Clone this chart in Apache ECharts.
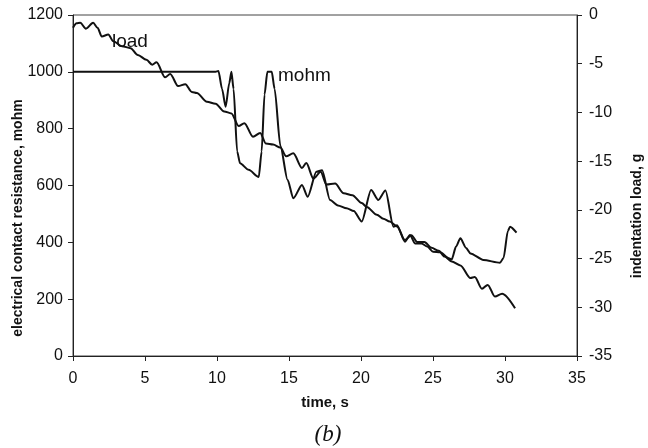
<!DOCTYPE html>
<html>
<head>
<meta charset="utf-8">
<script src="https://cdn.jsdelivr.net/npm/echarts@6/dist/echarts.min.js"></script>
<style>
html,body{margin:0;padding:0;background:#fff;}
#chart{width:648px;height:448px;}
</style>
</head>
<body>
<div id="chart"></div>
<script>
// time (s) and electrical contact resistance (mohm), left axis
var mohmTime = [0, 9.9, 10.1, 10.35, 10.6, 10.85, 11.0, 11.15, 11.4, 11.6, 12.2, 12.9, 13.1, 13.3, 13.5, 13.8, 14.0, 14.4, 14.9, 15.3, 15.9, 16.3, 16.9, 17.3, 17.85, 18.4, 19.0, 19.5, 20.05, 20.7, 21.2, 21.7, 22.25, 22.5, 23.05, 23.4, 23.75, 24.2, 24.6, 25.0, 25.5, 26.1, 26.3, 26.6, 26.9, 27.3, 27.6, 28.5, 29.65, 29.9, 30.2, 30.35, 30.8];
var mohmValues = [1000, 1000, 1003, 940, 877, 960, 1000, 940, 720, 678, 655, 630, 720, 920, 1000, 1000, 940, 740, 620, 555, 602, 560, 648, 654, 549, 530, 520, 510, 473, 584, 549, 582, 455, 460, 402, 426, 396, 396, 385, 367, 365, 344, 340, 385, 414, 380, 361, 338, 328, 345, 440, 455, 434];
// time (s) and indentation load (g), right axis
var loadTime = [0.0, 0.25, 0.5, 0.9, 1.4, 1.7, 2.0, 2.45, 2.8, 3.4, 4.0, 4.5, 5.1, 5.5, 5.8, 6.4, 6.75, 7.3, 7.8, 8.25, 8.6, 9.3, 9.9, 10.5, 11.0, 11.5, 11.9, 12.5, 13.0, 13.4, 13.9, 14.4, 14.8, 15.3, 15.9, 16.2, 16.7, 17.2, 17.6, 18.2, 18.8, 19.4, 20.05, 20.4, 21.1, 21.55, 22.0, 22.5, 23.05, 23.5, 23.9, 24.4, 24.9, 25.4, 25.8, 26.3, 26.9, 27.6, 27.9, 28.4, 28.8, 29.3, 29.8, 30.7];
var loadValues = [-1.3, -0.85, -0.8, -1.4, -0.8, -1.3, -2.2, -2.0, -2.7, -3.2, -3.4, -4.1, -4.6, -5.1, -4.85, -6.4, -6.05, -7.3, -7.1, -7.9, -8.0, -8.9, -9.1, -9.9, -10.1, -11.4, -11.1, -12.5, -12.1, -13.2, -13.3, -13.6, -14.5, -14.2, -15.7, -15.2, -16.8, -16.1, -17.4, -17.3, -18.3, -18.5, -19.3, -19.7, -20.5, -20.9, -21.2, -21.7, -23.1, -22.6, -23.3, -23.3, -23.9, -24.2, -24.8, -25.3, -25.7, -27.0, -26.9, -28.1, -27.7, -28.9, -28.6, -30.1];
var xTicks = {min: 0, max: 35, interval: 5};
var leftTicks = {min: 0, max: 1200, interval: 200};
var rightTicks = {min: -35, max: 0, interval: 5};

var mohmData = mohmTime.map(function (t, i) { return [t, mohmValues[i]]; });
var loadData = loadTime.map(function (t, i) { return [t, loadValues[i]]; });

var FONT = '"Liberation Sans", Arial, Helvetica, sans-serif';
var chart = echarts.init(document.getElementById('chart'), null, {renderer: 'canvas'});
var axisLine = {show: true, lineStyle: {color: '#222', width: 1}};
var tickStyle = {show: true, length: 5, lineStyle: {color: '#222', width: 1}};
var plain = function (v) { return String(v); };
var labelStyle = {color: '#111', fontFamily: FONT, fontSize: 16, formatter: plain};

chart.setOption({
  animation: false,
  backgroundColor: '#fff',
  grid: {left: 73, right: 71, top: 15, bottom: 92, show: true, borderColor: '#444', borderWidth: 1},
  xAxis: {
    type: 'value', min: xTicks.min, max: xTicks.max, interval: xTicks.interval,
    name: 'time, s', nameLocation: 'middle', nameGap: 39,
    nameTextStyle: {fontFamily: FONT, fontSize: 15, fontWeight: 'bold', color: '#111'},
    axisLine: axisLine, axisTick: tickStyle,
    axisLabel: Object.assign({margin: 15}, labelStyle),
    splitLine: {show: false}
  },
  yAxis: [{
    type: 'value', position: 'left', min: leftTicks.min, max: leftTicks.max, interval: leftTicks.interval,
    axisLine: axisLine, axisTick: tickStyle,
    axisLabel: Object.assign({margin: 10}, labelStyle),
    splitLine: {show: false}
  }, {
    type: 'value', position: 'right', min: rightTicks.min, max: rightTicks.max, interval: rightTicks.interval,
    axisLine: axisLine, axisTick: tickStyle,
    axisLabel: Object.assign({margin: 12}, labelStyle),
    splitLine: {show: false}
  }],
  series: [{
    name: 'mohm', type: 'line', yAxisIndex: 0, data: mohmData,
    showSymbol: false, smooth: 0.25, smoothMonotone: 'x',
    lineStyle: {color: '#111', width: 2}
  }, {
    name: 'load', type: 'line', yAxisIndex: 1, data: loadData,
    showSymbol: false, smooth: 0.3, smoothMonotone: 'x',
    lineStyle: {color: '#111', width: 2}
  }],
  graphic: [
    {type: 'text', left: 112, top: 32, style: {text: 'load', font: '19px ' + FONT, fill: '#111'}},
    {type: 'text', left: 278, top: 66, style: {text: 'mohm', font: '19px ' + FONT, fill: '#111'}},
    {type: 'text', x: 18, y: 218, rotation: Math.PI / 2,
     style: {text: 'electrical contact resistance, mohm', font: 'bold 14px ' + FONT, fill: '#111', textAlign: 'center', textVerticalAlign: 'middle'}},
    {type: 'text', x: 637, y: 216, rotation: Math.PI / 2,
     style: {text: 'indentation load, g', font: 'bold 14px ' + FONT, fill: '#111', textAlign: 'center', textVerticalAlign: 'middle'}},
    {type: 'text', x: 328, y: 435,
     style: {text: '(b)', font: 'italic 23px "Liberation Serif", "Times New Roman", serif', fill: '#111', textAlign: 'center', textVerticalAlign: 'middle'}}
  ]
});
</script>
</body>
</html>
